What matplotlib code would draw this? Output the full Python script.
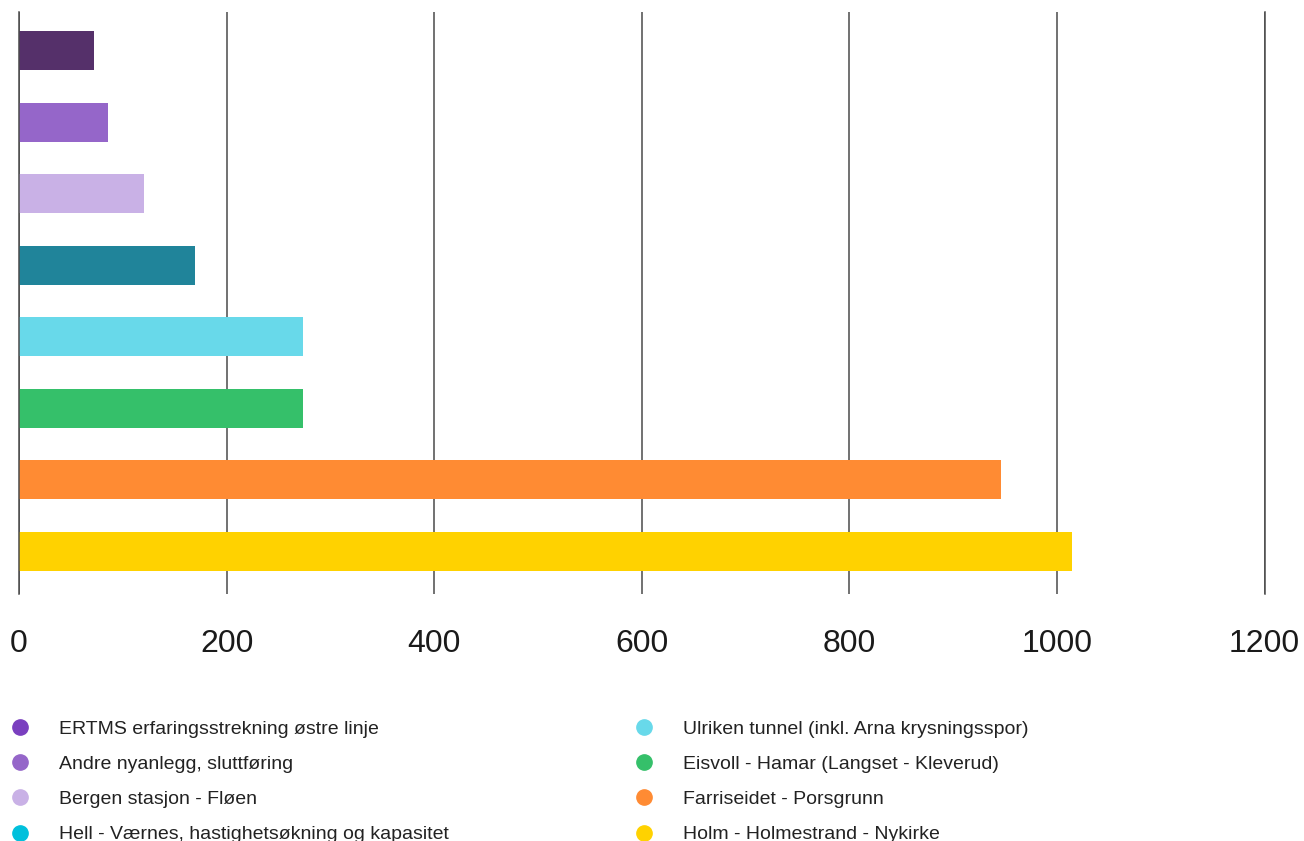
import matplotlib
matplotlib.use("Agg")
import matplotlib.pyplot as plt
from matplotlib.lines import Line2D

plt.rcParams['font.family'] = ['Liberation Sans', 'DejaVu Sans']

categories = [
    "ERTMS erfaringsstrekning østre linje",
    "Andre nyanlegg, sluttføring",
    "Bergen stasjon - Fløen",
    "Hell - Værnes, hastighetsøkning og kapasitet",
    "Ulriken tunnel (inkl. Arna krysningsspor)",
    "Eisvoll - Hamar (Langset - Kleverud)",
    "Farriseidet - Porsgrunn",
    "Holm - Holmestrand - Nykirke",
]
values = [72, 86, 120, 170, 274, 274, 946, 1014]
bar_colors = ["#55306a", "#9566c9", "#c9b1e6", "#20849a",
              "#68d9ea", "#35c06a", "#ff8b33", "#ffd200"]
legend_colors = ["#7a3fbf", "#9566c9", "#c9b1e6", "#00c0dc",
                 "#68d9ea", "#35c06a", "#ff8b33", "#ffd200"]
xticks = [0, 200, 400, 600, 800, 1000, 1200]

W, H = 1304, 841
fig = plt.figure(figsize=(W / 100, H / 100), dpi=100)
ax = fig.add_axes([19 / W, (H - 594) / H, (1264.6 - 19) / W, (594 - 12) / H])

ypos = list(range(len(values)))
ax.barh(ypos, values, height=0.545, color=bar_colors, zorder=2)
ax.set_xlim(0, 1200)
ax.set_ylim(7.594, -0.538)
ax.set_yticks([])
ax.set_xticks(xticks)
ax.set_xticklabels([str(t) for t in xticks], fontsize=23, color="#1a1a1a")
ax.tick_params(axis="x", length=0, pad=25.5)
ax.grid(axis="x", color="#4a4a4a", linewidth=1.1, zorder=0)
ax.set_axisbelow(True)
for s in ["top", "bottom"]:
    ax.spines[s].set_visible(False)
for s in ["left", "right"]:
    ax.spines[s].set_color("#4a4a4a")
    ax.spines[s].set_linewidth(1.1)

fs = 14
em = fs * 100 / 72
handles = [Line2D([], [], linestyle="none", marker="o", markersize=11,
                  markerfacecolor=c, markeredgecolor=c) for c in legend_colors]

def make_legend(idx, xc):
    hl = 1.0
    left = xc - hl * em / 2
    top = H - 735 + em * 0.75
    leg = fig.legend([handles[i] for i in idx], [categories[i] for i in idx],
                     loc="upper left",
                     bbox_to_anchor=(left / W, top / H),
                     frameon=False, fontsize=fs, handlelength=hl,
                     handletextpad=(59 - 20 - hl * em / 2) / em,
                     borderpad=0, borderaxespad=0, labelspacing=0.9,
                     labelcolor="#222222")
    return leg

make_legend([0, 1, 2, 3], 20)
make_legend([4, 5, 6, 7], 644)

fig.savefig("out.png", dpi=100)
